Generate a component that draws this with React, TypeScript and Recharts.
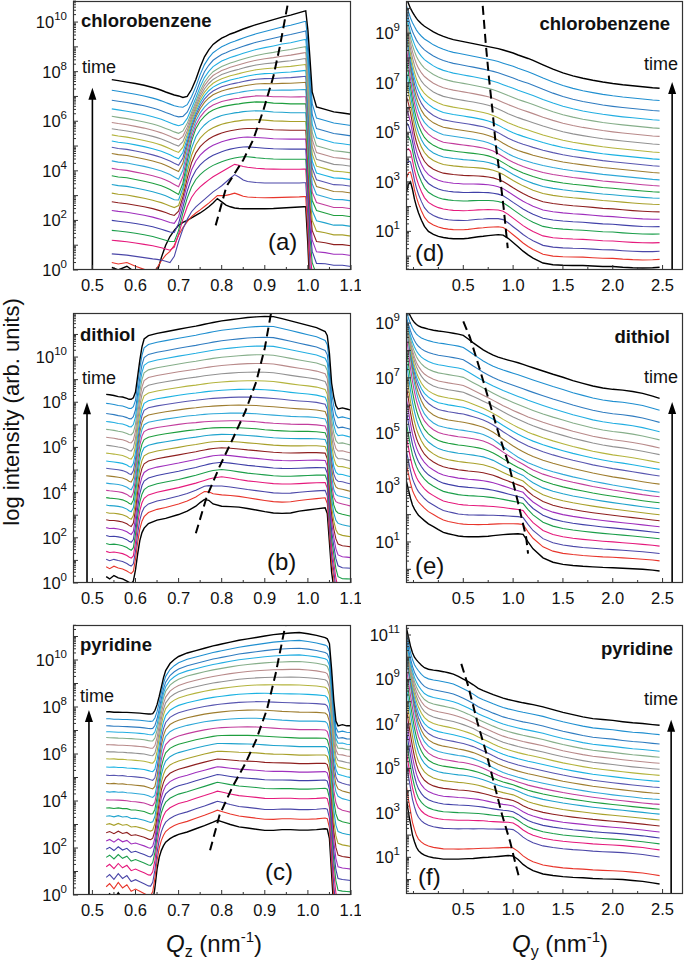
import React from "react";
import { LineChart, Line, XAxis, YAxis, ReferenceLine } from "recharts";

const FONT = '"Liberation Sans", Arial, sans-serif';

// line colours, earliest scan (bottom) to latest scan (top)
const curveColors = [
  "#000000", "#e8352b", "#4b47a8", "#e5197c", "#1b9e4a", "#4040a8",
  "#9f2fbd", "#8e1f1f", "#a8a02a", "#1fa3cd", "#1e9e3e", "#c23d9d",
  "#2fa8d8", "#9e7d2f", "#5856b0", "#1bb2e2", "#b4b43e", "#929292",
  "#b88a8a", "#86ae8a", "#23aee2", "#2f7cc0", "#1f8fd0", "#000000",
];

// ---- (a) chlorobenzene, Qz cuts ----
const qzA = [0.545, 0.56, 0.58, 0.6, 0.62, 0.64, 0.65, 0.66, 0.67, 0.68, 0.69, 0.7, 0.71, 0.72, 0.73, 0.74, 0.75, 0.76, 0.77, 0.78, 0.79, 0.8, 0.81, 0.82, 0.83, 0.84, 0.85, 0.86, 0.88, 0.9, 0.92, 0.94, 0.96, 0.98, 0.99, 0.995, 1.0, 1.005, 1.01, 1.02, 1.04, 1.06, 1.08, 1.1];
const levelsA = [0.1, 0.3, 0.65, 1.2, 1.6, 2.0, 2.4, 2.75, 3.1, 3.45, 3.8, 4.1, 4.4, 4.7, 4.95, 5.2, 5.45, 5.7, 5.95, 6.2, 6.5, 6.85, 7.25, 7.68];
const shapeA0 = [0, -0.1, 0.05, -0.2, -0.4, -0.6, -0.2, 0.4, 0.9, 1.25, 1.5, 1.7, 1.82, 1.9, 2.0, 2.1, 2.2, 2.32, 2.45, 2.6, 2.78, 2.65, 2.52, 2.45, 2.4, 2.38, 2.37, 2.37, 2.37, 2.37, 2.38, 2.4, 2.42, 2.44, 2.45, 2.45, 0.9, -1.1, -2.1, -2.5, -2.5, -2.5, -2.5, -2.5];
const shapeA2 = [0, -0.02, -0.05, -0.1, -0.15, -0.2, -0.22, -0.25, -0.3, -0.35, -0.1, 0.5, 1.0, 1.4, 1.7, 1.9, 2.05, 2.2, 2.35, 2.5, 2.62, 2.75, 2.9, 3.05, 3.2, 3.1, 2.98, 2.92, 2.88, 2.86, 2.86, 2.86, 2.86, 2.86, 2.87, 2.87, 1.5, -0.5, -1.5, -2.0, -2.0, -2.0, -2.0, -2.0];
const shapeA4 = [0, -0.03, -0.07, -0.12, -0.18, -0.25, -0.3, -0.35, -0.4, -0.45, -0.45, 0.0, 0.7, 1.3, 1.75, 2.05, 2.25, 2.4, 2.52, 2.62, 2.7, 2.77, 2.83, 2.88, 2.92, 2.95, 2.97, 2.97, 2.93, 2.9, 2.88, 2.87, 2.87, 2.87, 2.87, 2.87, 1.5, -0.3, -1.3, -1.8, -1.8, -1.85, -1.85, -1.9];
const shapeA10 = [0, -0.05, -0.08, -0.15, -0.22, -0.3, -0.35, -0.4, -0.47, -0.55, -0.65, -0.75, -0.3, 0.6, 1.4, 1.9, 2.2, 2.4, 2.55, 2.65, 2.72, 2.78, 2.82, 2.85, 2.88, 2.9, 2.93, 2.95, 2.98, 2.97, 2.93, 2.92, 2.9, 2.9, 2.9, 2.9, 1.5, 0.0, -1.0, -1.4, -1.5, -1.6, -1.6, -1.65];
const shapeA23 = [0, -0.04, -0.1, -0.16, -0.23, -0.32, -0.37, -0.43, -0.5, -0.56, -0.62, -0.66, -0.72, -0.68, -0.4, 0.0, 0.5, 0.92, 1.2, 1.42, 1.55, 1.67, 1.75, 1.84, 1.9, 1.97, 2.04, 2.1, 2.22, 2.32, 2.42, 2.52, 2.6, 2.7, 2.75, 2.77, 2.0, 0.8, -0.5, -1.1, -1.2, -1.3, -1.35, -1.4];
const dashA = [[0.786, 1.8], [0.811, 3.37], [0.85, 4.44], [0.873, 5.25], [0.897, 6.46], [0.92, 7.81], [0.935, 9.02], [0.953, 10.7]];

// ---- (b) dithiol, Qz cuts ----
const qzB = [0.532, 0.54, 0.55, 0.56, 0.57, 0.58, 0.585, 0.59, 0.595, 0.6, 0.605, 0.61, 0.615, 0.62, 0.63, 0.65, 0.67, 0.7, 0.72, 0.74, 0.75, 0.76, 0.77, 0.78, 0.8, 0.82, 0.84, 0.86, 0.88, 0.9, 0.92, 0.94, 0.96, 0.98, 1.0, 1.02, 1.04, 1.045, 1.05, 1.055, 1.06, 1.065, 1.07, 1.08, 1.09, 1.1];
const levelsB = [0.28, 0.72, 1.05, 1.4, 1.75, 2.1, 2.45, 2.8, 3.12, 3.45, 3.78, 4.1, 4.42, 4.75, 5.08, 5.4, 5.75, 6.1, 6.45, 6.8, 7.15, 7.5, 7.95, 8.35];
const shapeB0 = [0, -0.1, 0.05, -0.05, -0.1, -0.2, -0.25, -0.3, -0.2, 0.3, 1.0, 1.6, 1.95, 2.15, 2.35, 2.5, 2.58, 2.75, 2.9, 3.12, 3.28, 3.42, 3.38, 3.22, 3.12, 3.1, 3.08, 3.02, 2.95, 2.88, 2.82, 2.8, 2.82, 2.9, 2.95, 3.0, 3.05, 2.8, 1.5, 0.2, -0.5, -1.5, -2, -2, -2, -2];
const shapeB3 = [0, -0.05, -0.03, -0.06, -0.1, -0.18, -0.25, -0.3, -0.2, 0.4, 1.2, 1.8, 2.15, 2.35, 2.5, 2.62, 2.7, 2.82, 2.92, 3.02, 3.08, 3.14, 3.2, 3.25, 3.3, 3.25, 3.18, 3.12, 3.08, 3.04, 3.0, 2.98, 2.98, 3.0, 3.02, 3.04, 3.05, 2.8, 1.5, 0.2, -0.5, -1.2, -1.6, -1.7, -1.7, -1.7];
const shapeB11 = [0, -0.02, -0.04, -0.06, -0.1, -0.18, -0.25, -0.3, -0.1, 0.5, 1.3, 2.0, 2.4, 2.6, 2.7, 2.78, 2.84, 2.92, 2.97, 3.0, 3.02, 3.04, 3.05, 3.06, 3.07, 3.08, 3.08, 3.06, 3.04, 3.0, 2.97, 2.95, 2.93, 2.92, 2.92, 2.9, 2.85, 2.6, 1.4, 0.3, -0.3, -0.5, -0.55, -0.6, -0.65, -0.7];
const shapeB23 = [0, -0.02, -0.05, -0.1, -0.12, -0.18, -0.22, -0.22, -0.15, 0.1, 0.8, 1.5, 2.1, 2.45, 2.6, 2.7, 2.77, 2.88, 2.95, 3.02, 3.06, 3.1, 3.14, 3.18, 3.25, 3.3, 3.35, 3.4, 3.43, 3.45, 3.44, 3.35, 3.25, 3.15, 3.05, 2.95, 2.78, 2.6, 1.8, 0.5, -0.1, -0.5, -0.65, -0.6, -0.65, -0.7];
const dashB = [[0.74, 2.2], [0.765, 3.8], [0.795, 5.15], [0.825, 6.35], [0.855, 7.6], [0.88, 8.9], [0.9, 10.4], [0.915, 12.0]];

// ---- (c) pyridine, Qz cuts ----
const qzC = [0.532, 0.54, 0.55, 0.56, 0.57, 0.58, 0.59, 0.6, 0.61, 0.62, 0.63, 0.635, 0.64, 0.645, 0.65, 0.655, 0.66, 0.665, 0.67, 0.68, 0.69, 0.7, 0.72, 0.74, 0.76, 0.78, 0.79, 0.8, 0.82, 0.84, 0.86, 0.88, 0.9, 0.92, 0.94, 0.96, 0.98, 1.0, 1.02, 1.04, 1.045, 1.05, 1.055, 1.06, 1.065, 1.07, 1.08, 1.09, 1.1];
const levelsC = [-0.1, 0.35, 0.75, 1.2, 1.6, 1.95, 2.3, 2.65, 3.0, 3.35, 3.7, 4.05, 4.4, 4.75, 5.1, 5.45, 5.8, 6.1, 6.4, 6.7, 6.95, 7.2, 7.5, 7.8];
const shapeC0 = [0, 0.15, -0.1, 0.2, -0.05, 0.1, -0.2, -0.1, -0.2, -0.3, -0.4, -0.4, -0.2, 0.4, 1.2, 1.7, 2.0, 2.2, 2.35, 2.5, 2.6, 2.68, 2.78, 2.92, 3.05, 3.2, 3.28, 3.22, 3.1, 3.0, 2.95, 2.9, 2.85, 2.85, 2.88, 2.88, 2.86, 2.86, 2.88, 2.92, 2.9, 2.5, 1.0, -0.5, -1.5, -2, -2, -2, -2];
const shapeC12 = [0, -0.02, 0.0, -0.03, -0.02, -0.05, -0.06, -0.08, -0.1, -0.12, -0.18, -0.22, -0.25, -0.15, 0.3, 1.0, 1.7, 2.1, 2.35, 2.55, 2.65, 2.72, 2.82, 2.9, 2.97, 3.02, 3.04, 3.06, 3.09, 3.11, 3.12, 3.12, 3.1, 3.07, 3.04, 3.02, 3.0, 3.0, 3.0, 2.98, 2.9, 2.6, 1.6, 0.5, 0.0, -0.2, -0.3, -0.35, -0.4];
const shapeC23 = [0, 0.0, -0.02, -0.02, -0.03, -0.03, -0.04, -0.05, -0.06, -0.08, -0.1, -0.1, -0.08, 0.05, 0.3, 0.65, 1.05, 1.45, 1.75, 2.05, 2.22, 2.35, 2.5, 2.6, 2.7, 2.8, 2.84, 2.88, 2.96, 3.04, 3.1, 3.16, 3.22, 3.28, 3.32, 3.35, 3.37, 3.32, 3.25, 3.15, 3.1, 2.9, 1.8, 0.5, -0.4, -0.6, -0.55, -0.6, -0.6];
const dashC = [[0.773, 1.9], [0.795, 3.4], [0.825, 4.6], [0.855, 5.6], [0.88, 6.6], [0.905, 7.9], [0.925, 9.4], [0.948, 11.5]];

// ---- Qy cuts (d, e, f) share one grid ----
const qy = [-0.07, -0.05, -0.03, -0.01, 0.01, 0.03, 0.05, 0.08, 0.11, 0.15, 0.2, 0.25, 0.3, 0.35, 0.4, 0.45, 0.5, 0.55, 0.6, 0.65, 0.7, 0.75, 0.8, 0.85, 0.9, 0.95, 1.0, 1.05, 1.1, 1.15, 1.2, 1.3, 1.4, 1.5, 1.6, 1.7, 1.8, 1.9, 2.0, 2.1, 2.2, 2.3, 2.4, 2.47];

const levelsD = [0.75, 1.12, 1.5, 1.9, 2.3, 2.65, 3.0, 3.35, 3.7, 4.0, 4.3, 4.6, 4.9, 5.2, 5.5, 5.8, 6.1, 6.45, 6.8, 7.15, 7.5, 7.9, 8.35, 8.87];
const shapeD0 = [2.6, 2.9, 3.0, 2.7, 2.3, 2.0, 1.75, 1.45, 1.2, 1.0, 0.88, 0.8, 0.75, 0.72, 0.7, 0.7, 0.7, 0.72, 0.75, 0.78, 0.8, 0.83, 0.85, 0.87, 0.85, 0.72, 0.55, 0.38, 0.2, 0.05, -0.08, -0.28, -0.35, -0.37, -0.38, -0.38, -0.4, -0.42, -0.42, -0.45, -0.47, -0.48, -0.47, -0.45];
const shapeD12 = [8.8, 8.1, 7.4, 6.85, 6.4, 6.05, 5.8, 5.52, 5.32, 5.15, 5.0, 4.9, 4.82, 4.79, 4.76, 4.73, 4.7, 4.67, 4.64, 4.6, 4.56, 4.5, 4.42, 4.3, 4.17, 4.05, 3.95, 3.87, 3.8, 3.74, 3.68, 3.58, 3.5, 3.43, 3.37, 3.32, 3.27, 3.22, 3.18, 3.14, 3.1, 3.06, 3.02, 3.0];
const shapeD23 = [10.4, 10.2, 10.0, 9.85, 9.72, 9.6, 9.5, 9.38, 9.28, 9.18, 9.05, 8.95, 8.87, 8.8, 8.74, 8.7, 8.66, 8.62, 8.58, 8.54, 8.5, 8.46, 8.42, 8.38, 8.32, 8.26, 8.2, 8.12, 8.05, 7.98, 7.9, 7.72, 7.55, 7.4, 7.28, 7.18, 7.1, 7.03, 6.97, 6.92, 6.88, 6.84, 6.8, 6.78];
const dashD = [[0.695, 10.1], [0.728, 8.46], [0.76, 7.1], [0.793, 5.88], [0.825, 4.53], [0.865, 3.3], [0.905, 1.95], [0.946, 0.32]];

const levelsE = [1.35, 1.8, 2.15, 2.5, 2.85, 3.15, 3.45, 3.75, 4.05, 4.35, 4.65, 4.95, 5.2, 5.5, 5.8, 6.05, 6.3, 6.6, 6.85, 7.15, 7.45, 7.8, 8.25, 8.69];
const shapeE0 = [3.2, 2.9, 2.6, 2.35, 2.2, 2.08, 1.98, 1.88, 1.78, 1.66, 1.56, 1.45, 1.35, 1.3, 1.26, 1.22, 1.2, 1.19, 1.19, 1.19, 1.2, 1.21, 1.23, 1.25, 1.27, 1.28, 1.29, 1.3, 1.28, 1.0, 0.75, 0.42, 0.26, 0.18, 0.14, 0.11, 0.09, 0.07, 0.06, 0.04, 0.02, 0.0, -0.03, -0.06];
const shapeE12 = [8.9, 8.3, 7.7, 7.2, 6.8, 6.45, 6.2, 5.9, 5.68, 5.5, 5.35, 5.25, 5.2, 5.16, 5.13, 5.1, 5.08, 5.05, 5.02, 4.98, 4.93, 4.85, 4.75, 4.62, 4.48, 4.35, 4.22, 4.1, 4.0, 3.9, 3.82, 3.68, 3.57, 3.47, 3.38, 3.3, 3.22, 3.15, 3.08, 3.02, 2.96, 2.9, 2.85, 2.82];
const shapeE23 = [9.6, 9.4, 9.25, 9.12, 9.02, 8.95, 8.9, 8.85, 8.82, 8.78, 8.74, 8.71, 8.69, 8.66, 8.63, 8.6, 8.55, 8.42, 8.28, 8.15, 8.02, 7.92, 7.83, 7.76, 7.7, 7.65, 7.6, 7.55, 7.49, 7.43, 7.37, 7.25, 7.13, 7.02, 6.9, 6.8, 6.7, 6.63, 6.58, 6.55, 6.5, 6.43, 6.33, 6.25];
const dashE = [[0.5, 9.06], [0.565, 8.5], [0.66, 7.38], [0.76, 6.14], [0.86, 4.9], [0.96, 3.79], [1.05, 2.43], [1.13, 1.19], [1.15, 0.57]];

const levelsF = [0.92, 1.38, 2.3, 2.7, 3.05, 3.4, 3.75, 4.1, 4.45, 4.8, 5.1, 5.4, 5.7, 6.0, 6.3, 6.6, 6.9, 7.2, 7.5, 7.8, 8.1, 8.45, 8.9, 9.35];
const shapeF0 = [3.6, 3.0, 2.5, 2.0, 1.7, 1.45, 1.3, 1.18, 1.1, 1.03, 0.98, 0.95, 0.92, 0.92, 0.92, 0.92, 0.93, 0.94, 0.95, 0.97, 0.99, 1.0, 1.02, 1.04, 1.06, 1.08, 1.06, 0.9, 0.68, 0.52, 0.4, 0.25, 0.18, 0.13, 0.1, 0.08, 0.05, 0.03, 0.02, 0.0, -0.04, -0.08, -0.15, -0.2];
const shapeF12 = [9.9, 9.3, 8.7, 8.15, 7.6, 7.15, 6.8, 6.45, 6.2, 6.0, 5.85, 5.76, 5.7, 5.66, 5.62, 5.58, 5.55, 5.5, 5.44, 5.36, 5.26, 5.15, 5.03, 4.92, 4.82, 4.74, 4.67, 4.6, 4.54, 4.48, 4.43, 4.33, 4.24, 4.15, 4.07, 4.0, 3.93, 3.87, 3.81, 3.76, 3.71, 3.66, 3.62, 3.6];
const shapeF23 = [11.3, 10.9, 10.5, 10.2, 10.0, 9.88, 9.78, 9.64, 9.53, 9.46, 9.42, 9.39, 9.35, 9.3, 9.24, 9.14, 9.02, 8.9, 8.76, 8.6, 8.5, 8.41, 8.32, 8.24, 8.16, 8.1, 8.05, 8.0, 7.95, 7.91, 7.87, 7.77, 7.64, 7.52, 7.42, 7.32, 7.24, 7.2, 7.16, 7.1, 7.05, 7.02, 6.97, 6.94];
const dashF = [[0.48, 9.7], [0.55, 8.7], [0.64, 7.1], [0.73, 5.7], [0.81, 4.3], [0.89, 2.9], [0.97, 1.7], [1.03, 0.6], [1.06, 0.1]];

const qzMajor = [0.5, 0.6, 0.7, 0.8, 0.9, 1.0, 1.1];
const qzMinor = [0.55, 0.65, 0.75, 0.85, 0.95, 1.05];
const qyMajor = [0.5, 1.0, 1.5, 2.0, 2.5];
const qyMinor = [0, 0.25, 0.75, 1.25, 1.75, 2.25];

const panels = [
  { id: "a", plot: [73, 1, 278, 269], xs: qzA, levels: levelsA, shapes: [shapeA0, shapeA2, shapeA4, shapeA10, shapeA23], anchors: [0, 2, 4, 10, 23], ref: 0, xDomain: [0.455, 1.1], yDomain: [0, 10.85], xMajor: qzMajor, xMinor: qzMinor, yLabels: [0, 2, 4, 6, 8, 10], dash: dashA, arrow: [0.5, 7.35] },
  { id: "b", plot: [73, 313, 278, 270], xs: qzB, levels: levelsB, shapes: [shapeB0, shapeB3, shapeB11, shapeB23], anchors: [0, 3, 11, 23], ref: 0, xDomain: [0.455, 1.1], yDomain: [0, 11.95], xMajor: qzMajor, xMinor: qzMinor, yLabels: [0, 2, 4, 6, 8, 10], dash: dashB, arrow: [0.4875, 8.0] },
  { id: "c", plot: [73, 625, 278, 270], xs: qzC, levels: levelsC, shapes: [shapeC0, shapeC12, shapeC23], anchors: [0, 12, 23], ref: 0, xDomain: [0.455, 1.1], yDomain: [0, 11.49], xMajor: qzMajor, xMinor: qzMinor, yLabels: [0, 2, 4, 6, 8, 10], dash: dashC, arrow: [0.492, 7.87] },
  { id: "d", plot: [406, 1, 277, 269], xs: qy, levels: levelsD, shapes: [shapeD0, shapeD12, shapeD23], anchors: [0, 12, 23], ref: 12, xDomain: [-0.075, 2.705], yDomain: [-0.56, 10.3], xMajor: qyMajor, xMinor: qyMinor, yLabels: [1, 3, 5, 7, 9], dash: dashD, arrow: [2.596, 7.03] },
  { id: "e", plot: [406, 313, 277, 270], xs: qy, levels: levelsE, shapes: [shapeE0, shapeE12, shapeE23], anchors: [0, 12, 23], ref: 12, xDomain: [-0.075, 2.705], yDomain: [-0.5, 9.37], xMajor: qyMajor, xMinor: qyMinor, yLabels: [1, 3, 5, 7, 9], dash: dashE, arrow: [2.596, 6.12] },
  { id: "f", plot: [406, 625, 277, 269], xs: qy, levels: levelsF, shapes: [shapeF0, shapeF12, shapeF23], anchors: [0, 12, 23], ref: 12, xDomain: [-0.075, 2.705], yDomain: [-0.65, 11.45], xMajor: qyMajor, xMinor: qyMinor, yLabels: [1, 3, 5, 7, 9, 11], dash: dashF, arrow: [2.586, 7.19] },
];

// curve i = its level + shape blended between the two nearest read-off curves
function curveLog(p: any, i: number) {
  const { anchors, shapes, ref } = p;
  let j = 0;
  while (j < anchors.length - 2 && i > anchors[j + 1]) j++;
  const w = (i - anchors[j]) / (anchors[j + 1] - anchors[j]);
  const s0 = shapes[j], s1 = shapes[j + 1];
  return p.xs.map((_: number, k: number) => p.levels[i] + (1 - w) * (s0[k] - s0[ref]) + w * (s1[k] - s1[ref]));
}

function logTicks(lo: number, hi: number) {
  const out: number[] = [];
  for (let e = Math.floor(lo); e <= Math.ceil(hi); e++) {
    for (let m = 1; m <= 9; m++) {
      const v = m * 10 ** e;
      const l = Math.log10(v);
      if (l >= lo - 1e-9 && l <= hi + 1e-9) out.push(v);
    }
  }
  return out;
}

function YTick(props: any) {
  const { x, y, payload, labels } = props;
  const lg = Math.log10(payload.value);
  const e = Math.round(lg);
  const major = Math.abs(lg - e) < 1e-6;
  return (
    <g>
      <line x1={x} x2={x + (major ? 5 : 3)} y1={y} y2={y} stroke="#333" strokeWidth={1} />
      {major && labels.includes(e) ? (
        <text x={x - 6} y={y + 6} textAnchor="end" fontFamily={FONT} fontSize={16.5} fill="#111">
          10<tspan dy={-8} fontSize={11.5}>{e}</tspan>
        </text>
      ) : null}
    </g>
  );
}

function XTick(props: any) {
  const { x, y, payload, majors } = props;
  const major = majors.some((m: number) => Math.abs(m - payload.value) < 1e-9);
  return (
    <g>
      <line x1={x} x2={x} y1={y} y2={y - (major ? 5 : 3)} stroke="#333" strokeWidth={1} />
      {major ? (
        <text x={x} y={y + 21} textAnchor="middle" fontFamily={FONT} fontSize={16.5} fill="#111">
          {payload.value.toFixed(1)}
        </text>
      ) : null}
    </g>
  );
}

function Arrow(props: any) {
  const { x1, y1, x2, y2 } = props;
  return (
    <g>
      <line x1={x1} y1={y1} x2={x2} y2={y2 + 9} stroke="#000" strokeWidth={1.6} />
      <polygon points={`${x2},${y2} ${x2 - 4},${y2 + 12} ${x2 + 4},${y2 + 12}`} fill="#000" />
    </g>
  );
}

function Panel({ p }: { p: any }) {
  const [left, top, w, h] = p.plot;
  const curves = p.levels.map((_: number, i: number) => curveLog(p, i));
  const rows = p.xs.map((x: number, k: number) => {
    const r: any = { x };
    curves.forEach((c: number[], i: number) => (r["c" + i] = 10 ** c[k]));
    return r;
  });
  const dash = p.dash.map(([x, y]: number[]) => ({ x, y: 10 ** y }));
  const xTicks = [...p.xMajor, ...p.xMinor].sort((a, b) => a - b);
  const yTicks = logTicks(p.yDomain[0], p.yDomain[1]);
  const yMin = 10 ** p.yDomain[0];
  return (
    <div style={{ position: "absolute", left: left - 70, top: top - 10 }}>
      <LineChart width={w + 80} height={h + 40} data={rows} margin={{ top: 10, right: 10, bottom: 0, left: 10 }}>
        <XAxis
          type="number"
          dataKey="x"
          domain={p.xDomain}
          allowDataOverflow
          ticks={xTicks}
          interval={0}
          tickSize={0}
          tickMargin={0}
          axisLine={false}
          tickLine={false}
          height={30}
          tick={(t: any) => <XTick {...t} majors={p.xMajor} />}
        />
        <YAxis
          type="number"
          scale="log"
          domain={[yMin, 10 ** p.yDomain[1]]}
          allowDataOverflow
          ticks={yTicks}
          interval={0}
          tickSize={0}
          tickMargin={0}
          axisLine={false}
          tickLine={false}
          width={60}
          tick={(t: any) => <YTick {...t} labels={p.yLabels} />}
        />
        {curves.map((_: number[], i: number) => (
          <Line
            key={i}
            type="linear"
            dataKey={"c" + i}
            stroke={curveColors[i]}
            strokeWidth={i === 0 || i === 23 ? 1.4 : 1.1}
            dot={false}
            activeDot={false}
            isAnimationActive={false}
          />
        ))}
        <Line data={dash} type="linear" dataKey="y" stroke="#000" strokeWidth={2} strokeDasharray="9 5" dot={false} activeDot={false} isAnimationActive={false} />
        <ReferenceLine
          segment={[{ x: p.arrow[0], y: yMin * 1.001 }, { x: p.arrow[0], y: 10 ** p.arrow[1] }]}
          ifOverflow="visible"
          shape={(s: any) => <Arrow {...s} />}
        />
      </LineChart>
    </div>
  );
}

const solvent = { fontFamily: FONT, fontSize: 18.5, fontWeight: 700, fill: "#111" } as const;
const small = { fontFamily: FONT, fontSize: 18, fill: "#111" } as const;
const tag = { fontFamily: FONT, fontSize: 24, fill: "#111" } as const;

export default function App() {
  return (
    <div style={{ position: "absolute", left: 0, top: 0, width: 685, height: 966, background: "#fff" }}>
      {panels.map((p) => (
        <Panel key={p.id} p={p} />
      ))}
      <svg width={685} height={966} style={{ position: "absolute", left: 0, top: 0, pointerEvents: "none" }}>
        {panels.map((p) => (
          <rect key={p.id} x={p.plot[0] + 0.5} y={p.plot[1] + 0.5} width={p.plot[2] - 1} height={p.plot[3] - 1} fill="none" stroke="#333" strokeWidth={1.2} />
        ))}
        <text x={81} y={27} {...solvent}>chlorobenzene</text>
        <text x={82} y={73} {...small}>time</text>
        <text x={268} y={250} {...tag}>(a)</text>
        <text x={670} y={30} textAnchor="end" {...solvent}>chlorobenzene</text>
        <text x={678} y={70} textAnchor="end" {...small}>time</text>
        <text x={415} y={261} {...tag}>(d)</text>

        <text x={80} y={341} {...solvent}>dithiol</text>
        <text x={82} y={384} {...small}>time</text>
        <text x={267} y={570} {...tag}>(b)</text>
        <text x={670} y={343} textAnchor="end" {...solvent}>dithiol</text>
        <text x={678} y={383} textAnchor="end" {...small}>time</text>
        <text x={415} y={574} {...tag}>(e)</text>

        <text x={80} y={651} {...solvent}>pyridine</text>
        <text x={80} y={702} {...small}>time</text>
        <text x={265} y={880} {...tag}>(c)</text>
        <text x={673} y={655} textAnchor="end" {...solvent}>pyridine</text>
        <text x={678} y={705} textAnchor="end" {...small}>time</text>
        <text x={418} y={885} {...tag}>(f)</text>

        <text x={19} y={412} transform="rotate(-90 19 412)" textAnchor="middle" fontFamily={FONT} fontSize={22} fill="#111">
          log intensity (arb. units)
        </text>
        <text x={214} y={952} textAnchor="middle" fontFamily={FONT} fontSize={24} fill="#111">
          <tspan fontStyle="italic">Q</tspan>
          <tspan fontSize={16} dy={5}>z</tspan>
          <tspan dy={-5}> (nm</tspan>
          <tspan fontSize={15} dy={-10}>-1</tspan>
          <tspan dy={10}>)</tspan>
        </text>
        <text x={560} y={952} textAnchor="middle" fontFamily={FONT} fontSize={24} fill="#111">
          <tspan fontStyle="italic">Q</tspan>
          <tspan fontSize={16} dy={5}>y</tspan>
          <tspan dy={-5}> (nm</tspan>
          <tspan fontSize={15} dy={-10}>-1</tspan>
          <tspan dy={10}>)</tspan>
        </text>
      </svg>
    </div>
  );
}
